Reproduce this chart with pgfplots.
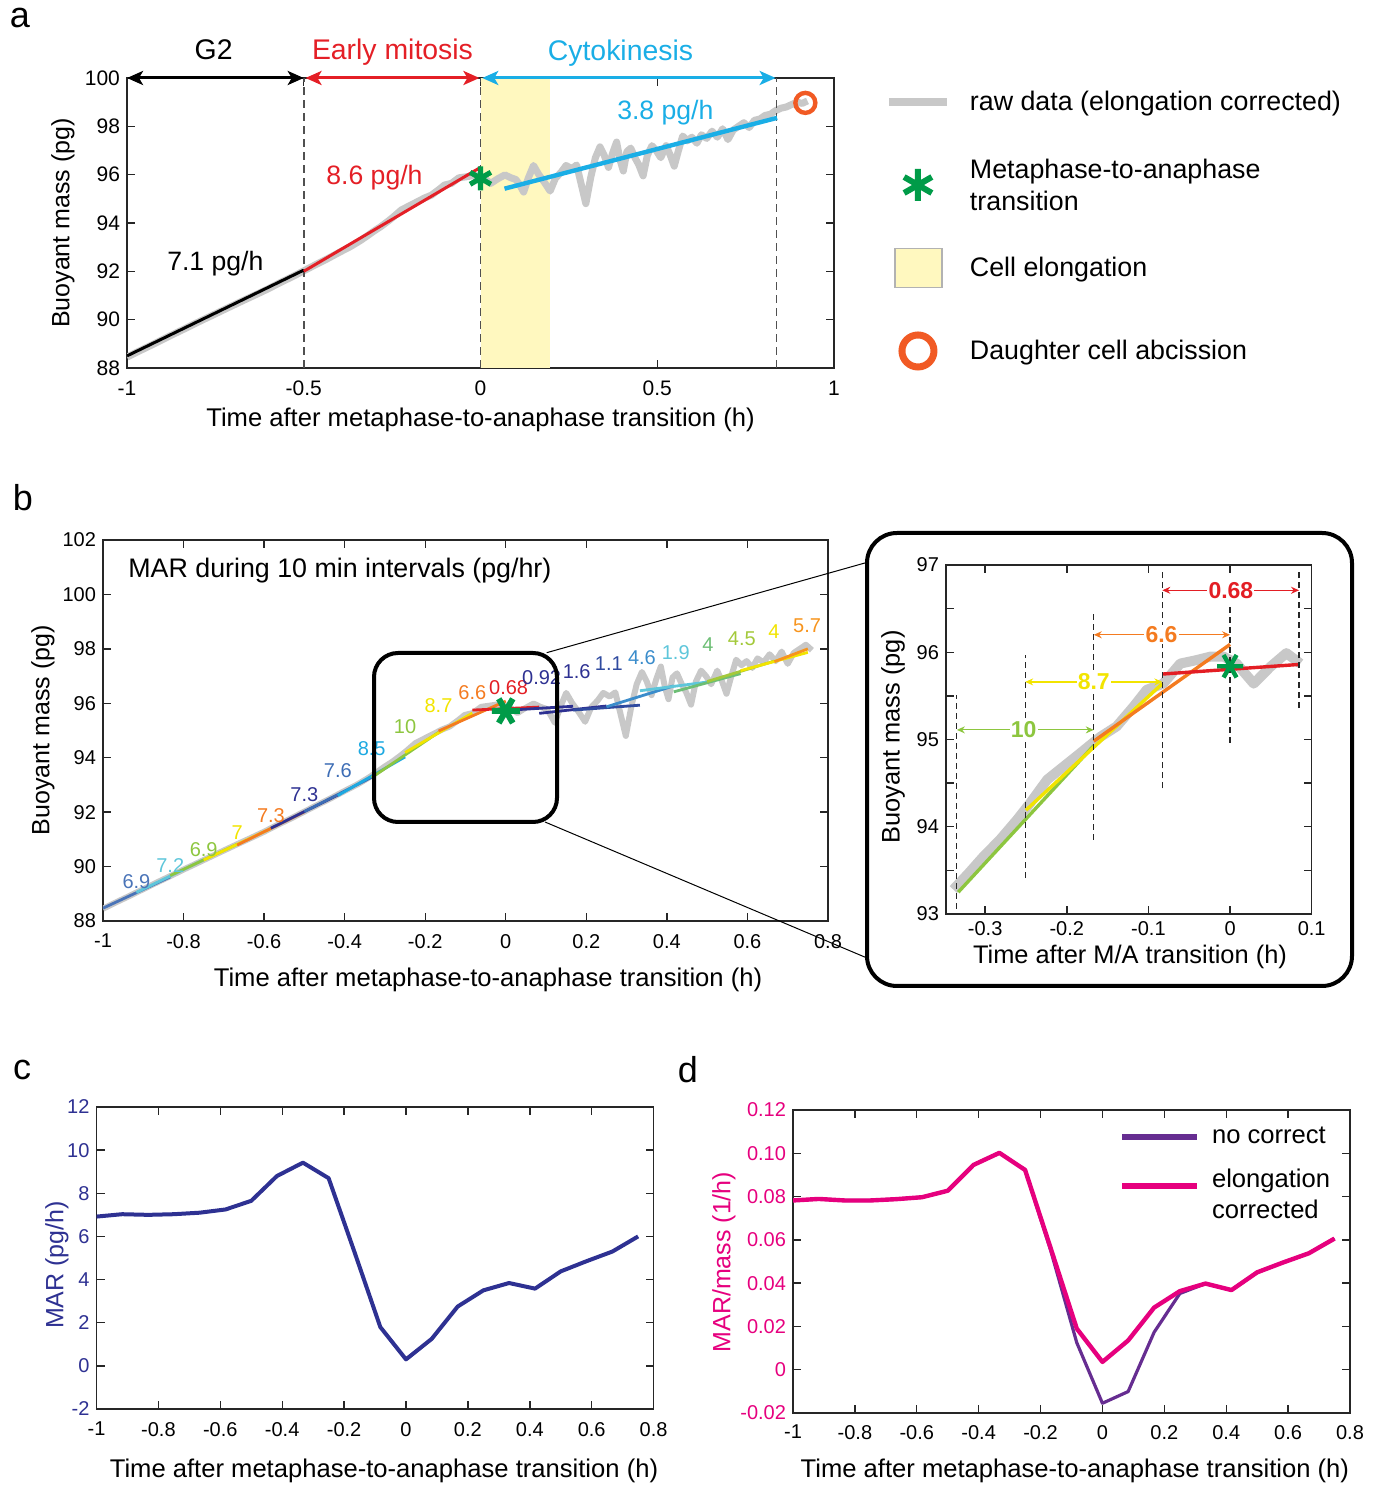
\documentclass[border=0pt]{standalone}
\usepackage{pgfplots}
\pgfplotsset{compat=1.18}
\usepackage{pgfplotstable}
\usepackage{fontspec}
\setmainfont{Liberation Sans}
\usetikzlibrary{arrows.meta}

\definecolor{rawgray}{HTML}{C8C8C8}
\definecolor{elyellow}{HTML}{FFF8BF}
\definecolor{mgreen}{HTML}{009B48}
\definecolor{corange}{HTML}{F15A24}
\definecolor{ared}{HTML}{E41F26}
\definecolor{acyan}{HTML}{1AAEE6}
\definecolor{marblue}{HTML}{2E3192}
\definecolor{mpink}{HTML}{E6007E}
\definecolor{mpurple}{HTML}{662D91}
\definecolor{dashc}{HTML}{505050}
% colours of the 10 min fits
\definecolor{cA}{HTML}{4A74B8}
\definecolor{cB}{HTML}{5EC6DA}
\definecolor{cC}{HTML}{8DC63F}
\definecolor{cD}{HTML}{F2E400}
\definecolor{cE}{HTML}{F47B20}
\definecolor{cF}{HTML}{2E3192}
\definecolor{cG}{HTML}{3D6DB5}
\definecolor{cH}{HTML}{1DA9E1}
\definecolor{cI}{HTML}{E31E24}
\definecolor{cJ}{HTML}{2F4A9F}
\definecolor{cK}{HTML}{3A8CCB}
\definecolor{cL}{HTML}{6DBE75}
\definecolor{cM}{HTML}{A3C93A}
\definecolor{cN}{HTML}{F7941D}

% raw buoyant mass trace (elongation corrected)
\pgfplotstableread{
x y
-1.000 88.45
-0.967 88.69
-0.933 88.93
-0.900 89.17
-0.867 89.41
-0.833 89.65
-0.800 89.89
-0.767 90.12
-0.733 90.36
-0.700 90.59
-0.667 90.82
-0.633 91.05
-0.600 91.28
-0.567 91.53
-0.533 91.77
-0.500 92.02
-0.467 92.27
-0.433 92.52
-0.400 92.78
-0.367 93.03
-0.339 93.28
-0.320 93.47
-0.302 93.66
-0.282 93.85
-0.261 94.08
-0.245 94.27
-0.224 94.54
-0.204 94.69
-0.184 94.84
-0.159 95.03
-0.139 95.15
-0.118 95.38
-0.102 95.57
-0.082 95.64
-0.061 95.87
-0.041 95.91
-0.024 95.95
-0.008 95.95
0.008 95.87
0.029 95.64
0.049 95.83
0.069 95.99
0.086 95.87
0.100 95.80
0.110 95.60
0.122 95.28
0.135 95.85
0.150 96.38
0.165 96.00
0.180 95.70
0.197 95.32
0.212 95.85
0.228 96.10
0.242 96.38
0.258 96.25
0.272 96.40
0.285 95.60
0.298 94.80
0.312 95.90
0.325 96.70
0.338 97.15
0.350 96.80
0.362 96.30
0.374 96.90
0.385 97.35
0.395 96.60
0.404 96.15
0.414 96.95
0.425 97.10
0.437 96.70
0.448 96.40
0.460 95.95
0.472 96.80
0.485 97.20
0.497 97.00
0.510 96.70
0.525 97.20
0.537 96.80
0.548 96.35
0.560 97.00
0.572 97.60
0.585 97.40
0.598 97.55
0.612 97.30
0.625 97.65
0.640 97.50
0.655 97.80
0.670 97.55
0.685 97.90
0.700 97.45
0.715 97.85
0.730 98.00
0.745 98.15
0.760 97.95
0.775 98.25
0.790 98.30
0.805 98.45
0.820 98.50
0.835 98.65
0.850 98.75
0.865 98.80
0.880 98.90
0.895 99.00
0.910 98.95
0.925 99.05
}\rawtab

% MAR and MAR/mass every 5 min
\pgfplotstableread{
x mar pink pur
-1.000 6.92 0.0782 0.0782
-0.917 7.03 0.0789 0.0789
-0.833 7.00 0.0782 0.0782
-0.750 7.03 0.0782 0.0782
-0.667 7.10 0.0788 0.0788
-0.583 7.25 0.0797 0.0797
-0.500 7.65 0.0827 0.0827
-0.417 8.80 0.0946 0.0946
-0.333 9.42 0.1002 0.1002
-0.250 8.70 0.0923 0.0923
-0.167 5.30 0.0560 0.0550
-0.083 1.80 0.0190 0.0125
0.000 0.30 0.0036 -0.0155
0.083 1.25 0.0135 -0.0101
0.167 2.75 0.0287 0.0173
0.250 3.50 0.0363 0.0352
0.333 3.84 0.0398 0.0398
0.417 3.58 0.0368 0.0368
0.500 4.38 0.0450 0.0450
0.583 4.85 0.0495 0.0495
0.667 5.30 0.0538 0.0538
0.750 6.00 0.0606 0.0606
}\ratetab

\pgfplotsset{
  matstyle/.style={
    scale only axis, anchor=south west, clip mode=individual,
    axis line style={black!85,line width=0.7pt},
    tick align=inside, major tick length=4pt, minor tick length=4pt,
    tick style={black!85,line width=0.7pt},
    every tick label/.append style={font=\fontsize{10}{12}\selectfont},
    label style={font=\fontsize{12.5}{15}\selectfont},
    xlabel style={anchor=center, font=\fontsize{12.8}{15}\selectfont},
    ylabel style={anchor=center},
  },
  xtk/.style={xtick={-1,-0.8,-0.6,-0.4,-0.2,0,0.2,0.4,0.6,0.8},
    xticklabels={-1,-0.8,-0.6,-0.4,-0.2,0,0.2,0.4,0.6,0.8}},
  fit/.style={line width=1.4pt, forget plot},
}

\begin{document}
\begin{tikzpicture}
\useasboundingbox (0,0) rectangle (686.5pt,750pt);

% ---------------- panel a
\begin{axis}[matstyle,
  at={(63.5pt,566pt)}, width=353.5pt, height=145pt,
  xmin=-1, xmax=1, ymin=88, ymax=100,
  xtick={-1,-0.5,0,0.5,1}, xticklabels={-1,-0.5,0,0.5,1},
  ytick={88,90,92,94,96,98,100}, yticklabels={88,90,92,94,96,98,100},
  xticklabel shift=3pt,
  every tick label/.append style={font=\fontsize{10.5}{12}\selectfont},
  xlabel={Time after metaphase-to-anaphase transition (h)},
  ylabel={Buoyant mass (pg)},
  xlabel style={at={(axis description cs:0.5,-0.179)}},
  ylabel style={at={(axis description cs:-0.0905,0.5)}},
  legend style={at={(1.0721,1.0345)}, anchor=north west, draw=none, fill=none,
    inner sep=0pt, outer sep=0pt, font=\fontsize{13.4}{16}\selectfont,
    row sep=7.5pt, column sep=9.5pt, nodes={inner sep=0pt, minimum height=34pt}},
  legend cell align=left,
]
\addlegendimage{legend image code/.code={\draw[draw=rawgray,line width=4pt] (0pt,0pt) -- (29pt,0pt);}}
\addlegendentry{raw data (elongation corrected)}
\addlegendimage{legend image code/.code={\draw[mgreen,line width=3pt,mark size=8pt] plot[mark=asterisk] coordinates {(14.5pt,0pt)};}}
\addlegendentry{\raisebox{4pt}[\height][\depth]{\begin{tabular}{@{}l@{}}Metaphase-to-anaphase\\transition\end{tabular}}}
\addlegendimage{legend image code/.code={\draw[draw=black!30,fill=elyellow,line width=0.6pt] (3pt,-9.75pt) rectangle (26.5pt,9.75pt);}}
\addlegendentry{Cell elongation}
\addlegendimage{legend image code/.code={\draw[draw=corange,line width=3.5pt] (14.5pt,0pt) circle (8pt);}}
\addlegendentry{Daughter cell abcission}

\addplot[draw=none, fill=elyellow, forget plot] coordinates {(0,88)(0.198,88)(0.198,100)(0,100)};
\addplot[rawgray, line width=3.5pt, line join=round, forget plot] table[x=x,y=y] {\rawtab};
\addplot[dashc, line width=0.8pt, dash pattern=on 4pt off 2.5pt, forget plot] coordinates {(-0.5,88)(-0.5,100)};
\addplot[dashc, line width=0.8pt, dash pattern=on 4pt off 2.5pt, forget plot] coordinates {(0,88)(0,100)};
\addplot[dashc, line width=0.8pt, dash pattern=on 4pt off 2.5pt, forget plot] coordinates {(0.837,88)(0.837,100)};
\addplot[black, line width=1.5pt, forget plot] coordinates {(-1,88.5)(-0.5,92.05)};
\addplot[ared, line width=1.5pt, forget plot] coordinates {(-0.5,92.0)(0,96.3)};
\addplot[acyan, line width=2.2pt, forget plot] coordinates {(0.068,95.42)(0.839,98.35)};
\addplot[only marks, mark=asterisk, mark size=6pt, mgreen, line width=2.6pt, forget plot] coordinates {(0,95.85)};
\addplot[only marks, mark=o, mark size=5pt, corange, line width=2.2pt, forget plot] coordinates {(0.919,98.97)};

\draw[{Stealth[length=8pt,width=7pt,inset=2pt]}-{Stealth[length=8pt,width=7pt,inset=2pt]}, line width=1.5pt, black] (axis cs:-1,100) -- (axis cs:-0.5,100);
\draw[{Stealth[length=8pt,width=7pt,inset=2pt]}-{Stealth[length=8pt,width=7pt,inset=2pt]}, line width=1.5pt, ared] (axis cs:-0.495,100) -- (axis cs:-0.003,100);
\draw[{Stealth[length=8pt,width=7pt,inset=2pt]}-{Stealth[length=8pt,width=7pt,inset=2pt]}, line width=1.5pt, acyan] (axis cs:0.005,100) -- (axis cs:0.835,100);
\node[font=\fontsize{14.2}{16}\selectfont] at (axis cs:-0.755,101.16) {G2};
\node[font=\fontsize{14.2}{16}\selectfont, text=ared] at (axis cs:-0.249,101.08) {Early mitosis};
\node[font=\fontsize{14.2}{16}\selectfont, text=acyan] at (axis cs:0.396,101.03) {Cytokinesis};
\node[font=\fontsize{13.3}{16}\selectfont] at (axis cs:-0.75,92.30) {7.1 pg/h};
\node[font=\fontsize{13.3}{16}\selectfont, text=ared] at (axis cs:-0.30,95.86) {8.6 pg/h};
\node[font=\fontsize{13.3}{16}\selectfont, text=acyan] at (axis cs:0.523,98.55) {3.8 pg/h};
\end{axis}

% ---------------- panel b (main)
\begin{axis}[matstyle,
  at={(51.5pt,289.5pt)}, width=362.5pt, height=190.5pt,
  xmin=-1, xmax=0.8, ymin=88, ymax=102, xtk,
  ytick={88,90,92,94,96,98,100,102}, yticklabels={88,90,92,94,96,98,100,102},
  xticklabel shift=3pt,
  xlabel={Time after metaphase-to-anaphase transition (h)},
  ylabel={Buoyant mass (pg)},
  xlabel style={at={(axis description cs:0.531,-0.155)}},
  ylabel style={at={(axis description cs:-0.0828,0.501)}},
]
\addplot[rawgray, line width=3pt, line join=round, restrict x to domain=-1:0.76] table[x=x,y=y] {\rawtab};
\addplot[fit,cA] coordinates {(-1,88.47)(-0.833,89.62)};
\addplot[fit,cB] coordinates {(-0.917,89.05)(-0.75,90.25)};
\addplot[fit,cC] coordinates {(-0.833,89.67)(-0.667,90.82)};
\addplot[fit,cD] coordinates {(-0.75,90.24)(-0.583,91.40)};
\addplot[fit,cE] coordinates {(-0.667,90.79)(-0.5,92.01)};
\addplot[fit,cF] coordinates {(-0.583,91.41)(-0.417,92.63)};
\addplot[fit,cG] coordinates {(-0.5,92.02)(-0.333,93.28)};
\addplot[fit,cH] coordinates {(-0.417,92.61)(-0.25,94.03)};
\addplot[fit,cC] coordinates {(-0.333,93.27)(-0.167,94.93)};
\addplot[fit,cD] coordinates {(-0.25,94.19)(-0.083,95.64)};
\addplot[fit,cE] coordinates {(-0.167,94.98)(0,96.08)};
\addplot[fit,cI] coordinates {(-0.083,95.75)(0.083,95.86)};
\addplot[fit,cF] coordinates {(0,95.74)(0.167,95.89)};
\addplot[fit,cF] coordinates {(0.083,95.63)(0.25,95.90)};
\addplot[fit,cJ] coordinates {(0.167,95.75)(0.333,95.93)};
\addplot[fit,cK] coordinates {(0.25,95.87)(0.417,96.64)};
\addplot[fit,cB] coordinates {(0.333,96.46)(0.5,96.78)};
\addplot[fit,cL] coordinates {(0.417,96.42)(0.583,97.09)};
\addplot[fit,cM] coordinates {(0.5,96.8)(0.667,97.55)};
\addplot[fit,cD] coordinates {(0.583,97.2)(0.75,97.87)};
\addplot[fit,cN] coordinates {(0.667,97.53)(0.75,98.0)};
\addplot[only marks, mark=asterisk, mark size=7pt, mark options={rotate=90}, mgreen, line width=3pt] coordinates {(0,95.72)};
\begin{scope}[every node/.style={font=\fontsize{10}{12}\selectfont}]
\node[text=cA] at (axis cs:-0.917,89.43) {6.9};
\node[text=cB] at (axis cs:-0.833,90.05) {7.2};
\node[text=cC] at (axis cs:-0.75,90.64) {6.9};
\node[text=cD] at (axis cs:-0.667,91.26) {7};
\node[text=cE] at (axis cs:-0.583,91.89) {7.3};
\node[text=cF] at (axis cs:-0.5,92.63) {7.3};
\node[text=cG] at (axis cs:-0.417,93.51) {7.6};
\node[text=cH] at (axis cs:-0.333,94.32) {8.5};
\node[text=cC] at (axis cs:-0.25,95.16) {10};
\node[text=cD] at (axis cs:-0.167,95.90) {8.7};
\node[text=cE] at (axis cs:-0.083,96.38) {6.6};
\node[text=cI] at (axis cs:0.007,96.56) {0.68};
\node[text=cF] at (axis cs:0.089,96.96) {0.92};
\node[text=cF] at (axis cs:0.176,97.18) {1.6};
\node[text=cJ] at (axis cs:0.256,97.44) {1.1};
\node[text=cK] at (axis cs:0.338,97.66) {4.6};
\node[text=cB] at (axis cs:0.422,97.88) {1.9};
\node[text=cL] at (axis cs:0.502,98.14) {4};
\node[text=cM] at (axis cs:0.586,98.36) {4.5};
\node[text=cD] at (axis cs:0.666,98.62) {4};
\node[text=cN] at (axis cs:0.748,98.84) {5.7};
\end{scope}
\node[anchor=west, inner sep=0pt, font=\fontsize{13.4}{16}\selectfont] at (axis description cs:0.0345,0.921) {MAR during 10 min intervals (pg/hr)};
\end{axis}

% ---------------- panel b (inset)
\begin{axis}[matstyle,
  at={(473pt,293pt)}, width=182.85pt, height=174.5pt,
  xmin=-0.348, xmax=0.1, ymin=93, ymax=97,
  xtick={-0.3,-0.2,-0.1,0,0.1}, xticklabels={-0.3,-0.2,-0.1,0,0.1},
  ytick={93,94,95,96,97}, yticklabels={93,94,95,96,97},
  minor ytick={93.5,94.5,95.5,96.5},
  label style={font=\fontsize{12.7}{15}\selectfont},
  xlabel={Time after M/A transition (h)},
  ylabel={Buoyant mass (pg)},
  xlabel style={at={(axis description cs:0.503,-0.123)}},
  ylabel style={at={(axis description cs:-0.145,0.507)}},
]
\addplot[rawgray, line width=5pt, line join=round, restrict x to domain=-0.345:0.09] table[x=x,y=y] {\rawtab};
\addplot[cC, line width=1.7pt] coordinates {(-0.333,93.25)(-0.167,94.93)};
\addplot[cD, line width=1.7pt] coordinates {(-0.25,94.19)(-0.083,95.64)};
\addplot[cE, line width=1.7pt] coordinates {(-0.167,94.98)(0,96.09)};
\addplot[cI, line width=1.7pt] coordinates {(-0.083,95.75)(0.0845,95.86)};
\begin{scope}[black!85, line width=0.6pt, dash pattern=on 3pt off 2pt]
\draw (axis cs:-0.3347,93.06) -- (axis cs:-0.3347,95.51);
\draw (axis cs:-0.251,93.41) -- (axis cs:-0.251,95.97);
\draw (axis cs:-0.167,93.85) -- (axis cs:-0.167,96.48);
\draw (axis cs:-0.083,94.44) -- (axis cs:-0.083,96.96);
\draw (axis cs:0,94.96) -- (axis cs:0,96.54);
\draw (axis cs:0.0845,95.36) -- (axis cs:0.0845,96.92);
\end{scope}
\addplot[only marks, mark=asterisk, mark size=6.5pt, mark options={rotate=90}, mgreen, line width=2.2pt] coordinates {(0,95.84)};
\begin{scope}[line width=0.6pt, {Stealth[length=4pt,width=3.5pt]}-{Stealth[length=4pt,width=3.5pt]},
  every node/.style={fill=white, inner sep=0.6pt, font=\bfseries\fontsize{11.5}{13}\selectfont}]
\draw[cC] (axis cs:-0.3347,95.11) -- (axis cs:-0.167,95.11);
\node[text=cC] at (axis cs:-0.253,95.11) {10};
\draw[cD] (axis cs:-0.251,95.66) -- (axis cs:-0.083,95.66);
\node[text=cD] at (axis cs:-0.167,95.66) {8.7};
\draw[cE] (axis cs:-0.167,96.2) -- (axis cs:0,96.2);
\node[text=cE] at (axis cs:-0.084,96.2) {6.6};
\draw[cI] (axis cs:-0.083,96.71) -- (axis cs:0.0845,96.71);
\node[text=cI] at (axis cs:0.001,96.71) {0.68};
\end{scope}
\end{axis}

% zoom frames
\draw[line width=2pt, rounded corners=12pt] (187pt,423.5pt) rectangle (278.5pt,339pt);
\draw[line width=2pt, rounded corners=15pt] (433.5pt,483.5pt) rectangle (676pt,257pt);
\draw[line width=0.5pt] (273.35pt,423.65pt) -- (433.5pt,468.8pt);
\draw[line width=0.5pt] (272.5pt,339pt) -- (433.5pt,271pt);

% ---------------- panel c
\begin{axis}[matstyle,
  at={(48.25pt,45.5pt)}, width=278.55pt, height=151pt,
  xmin=-1, xmax=0.8, ymin=-2, ymax=12, xtk,
  ytick={-2,0,2,4,6,8,10,12}, yticklabels={-2,0,2,4,6,8,10,12},
  yticklabel style={text=marblue},
  xticklabel shift=3pt,
  xlabel={Time after metaphase-to-anaphase transition (h)},
  ylabel={MAR (pg/h)},
  ylabel style={text=marblue},
  xlabel style={at={(axis description cs:0.516,-0.205)}},
  ylabel style={at={(axis description cs:-0.071,0.477)}},
]
\addplot[marblue, line width=2pt, line join=round] table[x=x,y=mar] {\ratetab};
\end{axis}

% ---------------- panel d
\begin{axis}[matstyle,
  at={(396.5pt,43.5pt)}, width=278.5pt, height=151.5pt,
  xmin=-1, xmax=0.8, ymin=-0.02, ymax=0.12, xtk,
  ytick={-0.02,0,0.02,0.04,0.06,0.08,0.1,0.12},
  yticklabels={-0.02,0,0.02,0.04,0.06,0.08,0.10,0.12},
  yticklabel style={text=mpink},
  xticklabel shift=2.5pt,
  xlabel={Time after metaphase-to-anaphase transition (h)},
  ylabel={MAR/mass (1/h)},
  ylabel style={text=mpink},
  xlabel style={at={(axis description cs:0.506,-0.191)}},
  ylabel style={at={(axis description cs:-0.124,0.498)}},
  legend style={at={(0.5853,0.977)}, anchor=north west, draw=none, fill=none,
    inner sep=0pt, outer sep=0pt, font=\fontsize{12.8}{15.5}\selectfont,
    row sep=4.5pt, column sep=6pt, nodes={inner sep=0pt, minimum height=20pt}},
  legend cell align=left,
  legend image code/.code={\draw[#1,line width=3pt] (0pt,0pt) -- (37.5pt,0pt);},
]
\addplot[mpurple, line width=1.6pt, line join=round] table[x=x,y=pur] {\ratetab};
\addlegendentry{no correct}
\addplot[mpink, line width=2.2pt, line join=round] table[x=x,y=pink] {\ratetab};
\addlegendentry{\begin{tabular}{@{}l@{}}elongation\\corrected\end{tabular}}
\end{axis}

% panel letters
\node[font=\fontsize{18}{20}\selectfont] at (10pt,741pt) {a};
\node[font=\fontsize{18}{20}\selectfont] at (11.5pt,501pt) {b};
\node[font=\fontsize{18}{20}\selectfont] at (11pt,215pt) {c};
\node[font=\fontsize{18}{20}\selectfont] at (344pt,215pt) {d};
\end{tikzpicture}
\end{document}
